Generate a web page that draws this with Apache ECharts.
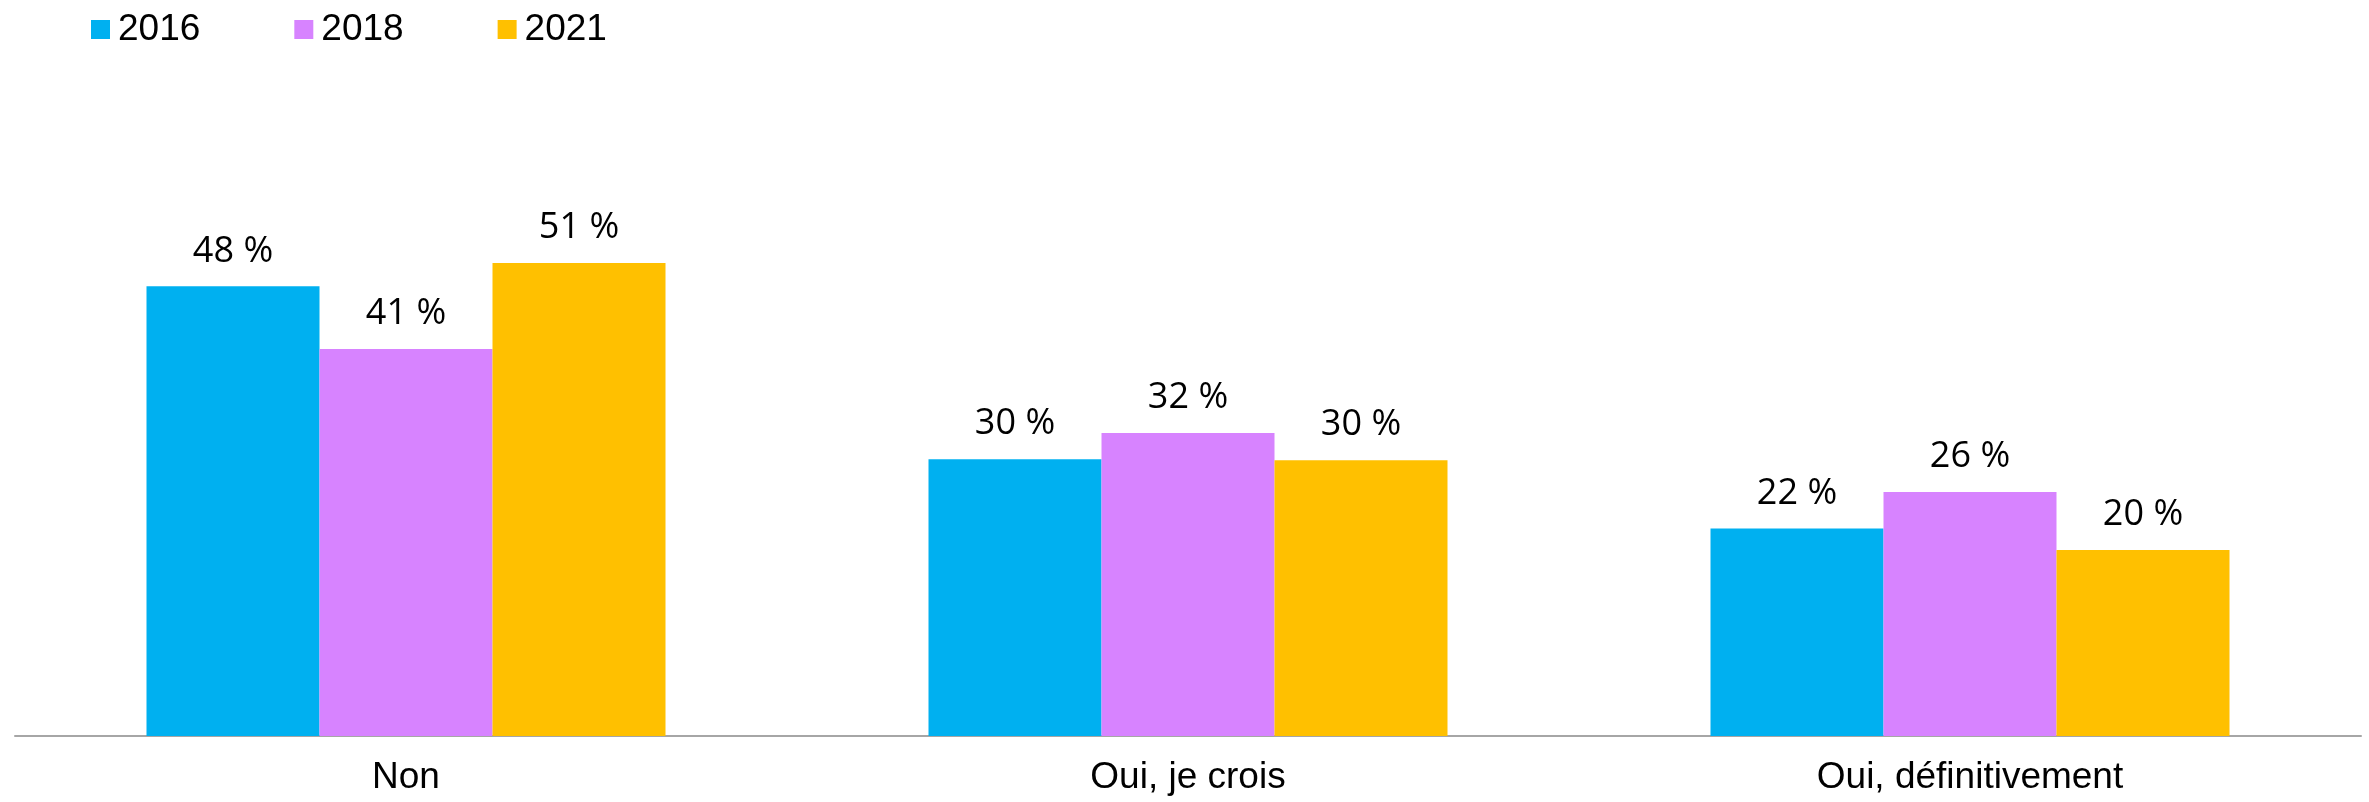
<!DOCTYPE html>
<html><head><meta charset="utf-8">
<script src="https://cdn.jsdelivr.net/npm/echarts@6/dist/echarts.min.js"></script>
<style>html,body{margin:0;padding:0;background:#fff}#c{width:2369px;height:802px}</style>
</head><body><div id="c"></div>
<script>
const categories = ['Non', 'Oui, je crois', 'Oui, définitivement'];
const seriesNames = ['2016', '2018', '2021'];
const values2016 = [48.1, 29.6, 22.2];
const values2018 = [41.4, 32.4, 26.1];
const values2021 = [50.6, 29.5, 19.9];
const colors = ['#00B0F0', '#D783FF', '#FFC000'];

const allValues = [values2016, values2018, values2021];
const chart = echarts.init(document.getElementById('c'));
chart.setOption({
  animation: false,
  grid: { left: 15, right: 8, top: 175, bottom: 66, containLabel: false },
  legend: {
    left: 86, top: 6, itemWidth: 19, itemHeight: 19, itemGap: 94,
    icon: 'rect',
    textStyle: { fontFamily: 'Liberation Sans, Arial', fontSize: 37, color: '#000', padding: [0,0,0,3] },
    data: seriesNames
  },
  xAxis: {
    type: 'category', data: categories,
    axisLine: { lineStyle: { color: '#A6A6A6', width: 2 } },
    axisTick: { show: false },
    axisLabel: { fontFamily: 'Liberation Sans, Arial', fontSize: 37, color: '#000', margin: 23 }
  },
  yAxis: { type: 'value', min: 0, max: 60, show: false, splitLine: { show: false } },
  series: allValues.map((vals, i) => ({
    name: seriesNames[i], type: 'bar', data: vals, barWidth: 173, barGap: '0%',
    itemStyle: { color: colors[i] },
    label: {
      show: true, position: 'top', distance: 17,
      fontFamily: 'Open Sans', fontSize: 36, color: '#000',
      formatter: p => Math.round(p.value) + ' %'
    }
  }))
});
</script></body></html>
